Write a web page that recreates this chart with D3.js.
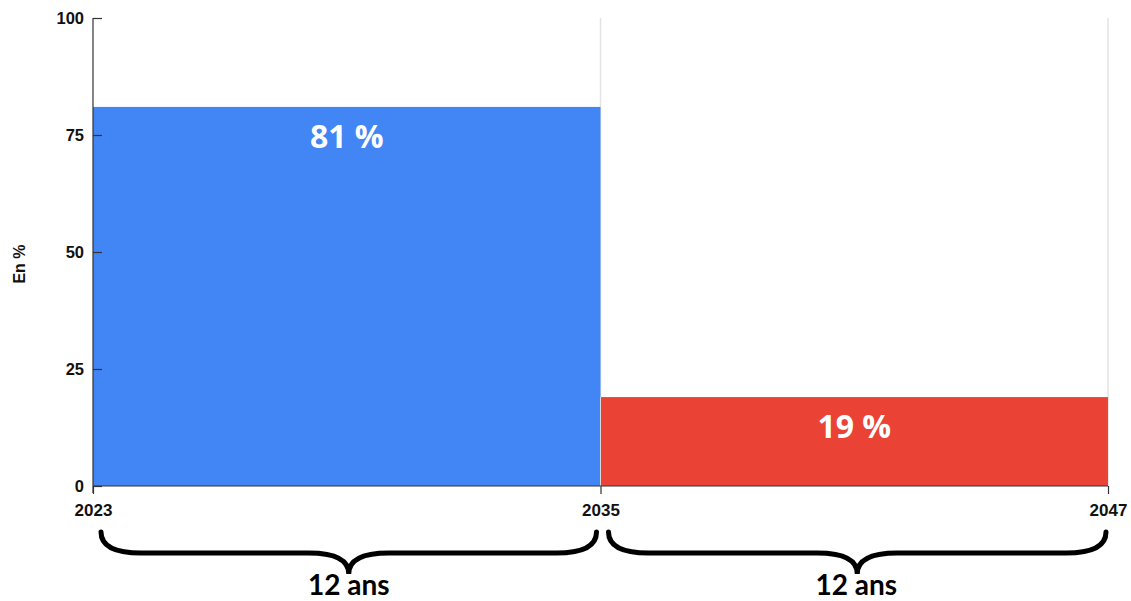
<!DOCTYPE html>
<html><head><meta charset="utf-8">
<script src="https://cdn.jsdelivr.net/npm/d3@7"></script>
<style>body{margin:0;background:#fff}svg{display:block}</style>
</head><body>
<svg id="c" width="1131" height="601"></svg>
<script>
const periods = [[2023, 2035], [2035, 2047]];
const values = [81, 19];
const barLabels = ["81 %", "19 %"];
const colors = ["#4285F4", "#EA4335"];
const yTicks = [0, 25, 50, 75, 100];
const xTicks = [2023, 2035, 2047];
const braceLabels = ["12 ans", "12 ans"];
const yTitle = "En %";

const svg = d3.select("#c");
const x = d3.scaleLinear().domain([2023, 2047]).range([93, 1108]);
const y = d3.scaleLinear().domain([0, 100]).range([486, 18]);

// gridlines
svg.append("g").selectAll("line").data(xTicks.slice(1)).join("line")
  .attr("x1", d => x(d)).attr("x2", d => x(d))
  .attr("y1", y(100)).attr("y2", y(0))
  .attr("stroke", "#e3e3e3").attr("stroke-width", 1.5);

// bars
svg.append("g").selectAll("rect").data(values).join("rect")
  .attr("x", (d, i) => x(periods[i][0]))
  .attr("width", (d, i) => x(periods[i][1]) - x(periods[i][0]))
  .attr("y", d => y(d))
  .attr("height", d => y(0) - y(d))
  .attr("fill", (d, i) => colors[i]);

// separator between bars
svg.append("line").attr("x1", x(2035)).attr("x2", x(2035))
  .attr("y1", y(values[1])).attr("y2", y(0))
  .attr("stroke", "#d8d8d8").attr("stroke-width", 1);

// bar labels
svg.append("g").selectAll("text").data(values).join("text")
  .attr("x", (d, i) => (x(periods[i][0]) + x(periods[i][1])) / 2)
  .attr("y", d => y(d) + 41)
  .attr("text-anchor", "middle")
  .attr("fill", "#fff")
  .attr("font-family", "'Open Sans', 'Noto Sans', sans-serif")
  .attr("font-weight", 700)
  .attr("font-size", 32)
  .text((d, i) => barLabels[i]);

// y axis
const yAxis = d3.axisLeft(y).tickValues(yTicks).tickSize(-9).tickPadding(9);
const gy = svg.append("g").attr("transform", `translate(${x(2023)},0)`).call(yAxis);
gy.select(".domain").remove();
gy.selectAll(".tick line").attr("stroke", "#333").attr("stroke-width", 1.2);
gy.selectAll(".tick text").attr("font-family", "'Liberation Sans', Arial, sans-serif")
  .attr("font-weight", 700).attr("font-size", 16.5).attr("fill", "#111");
svg.append("line").attr("x1", x(2023)).attr("x2", x(2023))
  .attr("y1", y(100)).attr("y2", y(0) + 7).attr("stroke", "#333").attr("stroke-width", 1.2);

// x axis
const xAxis = d3.axisBottom(x).tickValues(xTicks).tickFormat(d3.format("d")).tickSize(8).tickPadding(10);
const gx = svg.append("g").attr("transform", `translate(0,${y(0)})`).call(xAxis);
gx.select(".domain").attr("stroke", "#333").attr("stroke-width", 1.2).attr("d", `M${x(2023)},0H${x(2047)}`);
gx.selectAll(".tick line").attr("stroke", "#333").attr("stroke-width", 1.2);
gx.selectAll(".tick text").attr("font-family", "'Liberation Sans', Arial, sans-serif")
  .attr("font-weight", 700).attr("font-size", 17).attr("fill", "#111");

// y title
svg.append("text").attr("transform", `translate(25,${y(50) + 12}) rotate(-90)`)
  .attr("text-anchor", "middle")
  .attr("font-family", "'Liberation Sans', Arial, sans-serif")
  .attr("font-weight", 700).attr("font-size", 16).attr("fill", "#111")
  .text(yTitle);

// braces
function brace(x1, x2, y0, y1, y2) {
  const xm = (x1 + x2) / 2, r = 40;
  const p = d3.path();
  p.moveTo(x1, y0);
  p.quadraticCurveTo(x1, y1, x1 + r, y1);
  p.lineTo(xm - r, y1);
  p.quadraticCurveTo(xm, y1, xm, y2);
  p.quadraticCurveTo(xm, y1, xm + r, y1);
  p.lineTo(x2 - r, y1);
  p.quadraticCurveTo(x2, y1, x2, y0);
  return p.toString();
}
svg.append("g").selectAll("path").data(periods).join("path")
  .attr("d", (d, i) => brace(x(d[0]) + 8, x(d[1]) - (i === 0 ? 4 : 2), 532, 553, 574))
  .attr("fill", "none").attr("stroke", "#000").attr("stroke-width", 5)
  .attr("stroke-linecap", "round");

svg.append("g").selectAll("text").data(periods).join("text")
  .attr("x", d => (x(d[0]) + x(d[1])) / 2 + 2)
  .attr("y", 595)
  .attr("text-anchor", "middle")
  .attr("font-family", "Lato, 'Open Sans', sans-serif")
  .attr("font-weight", 700).attr("font-size", 28).attr("fill", "#000")
  .text((d, i) => braceLabels[i]);
</script>
</body></html>
